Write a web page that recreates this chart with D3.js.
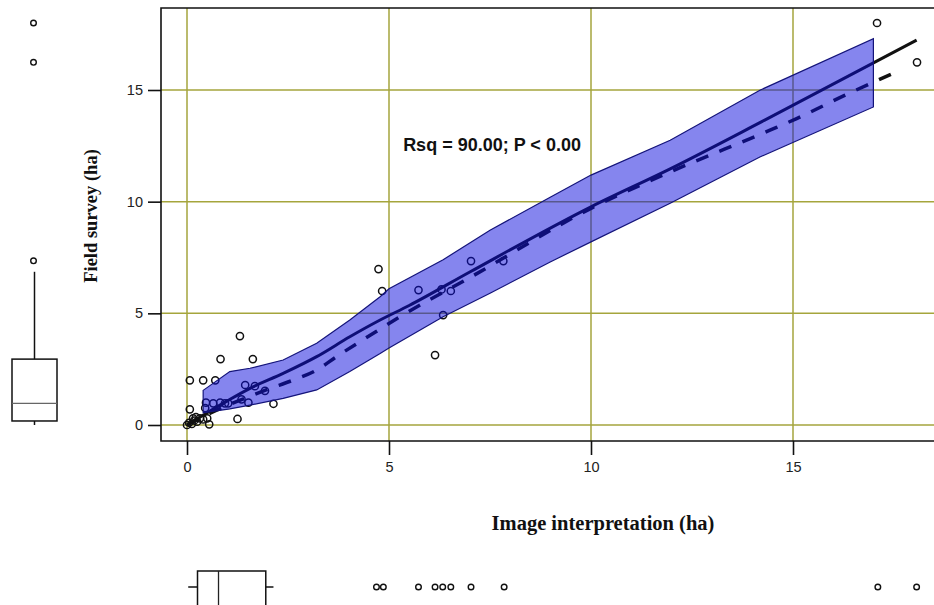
<!DOCTYPE html>
<html>
<head>
<meta charset="utf-8">
<script src="https://cdn.jsdelivr.net/npm/d3@7"></script>
<style>
    body { margin: 0; background: #fff; }
    svg { display: block; }
</style>
</head>
<body>
<svg id="chart" width="934" height="605"></svg>
<script>

// scatter points: image interpretation (ha) vs field survey (ha)
var imageHa = [17.08, 18.07, 4.74, 4.83, 5.73, 6.14, 6.30, 6.34, 6.53, 7.03, 7.83,
    1.31, 0.83, 1.63, 0.07, 0.40, 0.70, 1.44, 1.68, 1.93, 0.47, 0.82, 1.02, 1.35, 1.52, 2.14,
    0.07, 1.25, 0.55, 0.00, 0.05, 0.12, 0.18, 0.25, 0.32, 0.22, 0.40, 0.50, 0.45, 0.65, 0.94, 0.15];
var fieldHa = [18.00, 16.24, 6.98, 6.00, 6.04, 3.13, 6.07, 4.92, 6.00, 7.34, 7.34,
    3.98, 2.95, 2.95, 2.00, 2.00, 2.00, 1.79, 1.74, 1.53, 1.00, 1.00, 0.97, 1.15, 1.00, 0.95,
    0.70, 0.27, 0.03, 0.00, 0.10, 0.05, 0.20, 0.15, 0.30, 0.35, 0.25, 0.30, 0.76, 0.97, 0.97, 0.30];

// fitted line (solid) and smoother (dashed)
var fitX = [0, 0.5, 1.0, 1.56, 2.38, 3.21, 4.03, 4.78, 5.5, 7.0, 10.0, 11.96, 14.3, 18.06];
var fitY = [0, 0.55, 1.08, 1.64, 2.31, 3.06, 3.95, 4.70, 5.35, 6.85, 9.77, 11.47, 13.65, 17.23];
var smoothX = [0, 0.6, 1.3, 2.0, 2.63, 3.21, 3.70, 4.28, 4.74, 5.23, 7.0, 10.0, 11.96, 14.43, 15.09, 16.29, 17.65];
var smoothY = [0, 0.55, 1.10, 1.60, 2.01, 2.46, 3.06, 3.73, 4.25, 4.80, 6.60, 9.70, 11.33, 13.20, 13.72, 14.77, 15.88];

// confidence band edges
var bandX = [0.40, 1.06, 1.56, 2.38, 3.21, 4.03, 4.78, 5.0, 6.34, 7.5, 8.99, 10.0, 11.96, 14.18, 16.99];
var bandUpper = [1.55, 2.39, 2.54, 2.91, 3.66, 4.70, 5.74, 6.10, 7.40, 8.72, 10.20, 11.19, 12.75, 14.99, 17.30];
var bandLower = [0.55, 0.72, 0.89, 1.19, 1.57, 2.40, 3.20, 3.45, 4.85, 5.90, 7.30, 8.20, 9.93, 12.00, 14.24];

// marginal boxplots: [min, q1, median, q3, max]
var fieldBox = [0.00, 0.18, 0.97, 2.95, 6.86];
var fieldOutliers = [7.35, 16.24, 18.00];
var imageBox = [0.03, 0.26, 0.78, 1.95, 2.14];
var imageOutliers = [4.69, 4.86, 5.73, 6.14, 6.33, 6.53, 7.03, 7.85, 17.10, 18.06];

var ticks = [0, 5, 10, 15];

var xLabel = "Image interpretation (ha)";
var yLabel = "Field survey (ha)";
var statText = "Rsq = 90.00; P < 0.00";


var svg = d3.select("#chart");

var xScale = d3.scaleLinear().domain([0, 15]).range([187, 793]);
var yScale = d3.scaleLinear().domain([0, 15]).range([425, 90]);

var frame = { left: 161, right: 940, top: 8, bottom: 441 };

var gridColor = "#a5a53c";

// grid lines
svg.selectAll("line.vgrid")
    .data(ticks)
    .enter()
    .append("line")
    .attr("class", "vgrid")
    .attr("x1", function(d) { return xScale(d); })
    .attr("x2", function(d) { return xScale(d); })
    .attr("y1", frame.top)
    .attr("y2", frame.bottom)
    .attr("stroke", gridColor)
    .attr("stroke-width", 1.5);

svg.selectAll("line.hgrid")
    .data(ticks)
    .enter()
    .append("line")
    .attr("class", "hgrid")
    .attr("x1", frame.left)
    .attr("x2", frame.right)
    .attr("y1", function(d) { return yScale(d); })
    .attr("y2", function(d) { return yScale(d); })
    .attr("stroke", gridColor)
    .attr("stroke-width", 1.5);

// frame
svg.append("path")
    .attr("d", "M" + frame.right + "," + frame.top + "H" + frame.left + "V" + frame.bottom + "H" + frame.right)
    .attr("fill", "none")
    .attr("stroke", "#111")
    .attr("stroke-width", 1.6);

// axes (ticks outside the frame)
var xAxis = d3.axisBottom(xScale).tickValues(ticks).tickSize(14).tickPadding(7).tickFormat(d3.format("d"));
var yAxis = d3.axisLeft(yScale).tickValues(ticks).tickSize(13).tickPadding(5).tickFormat(d3.format("d"));

var gx = svg.append("g")
    .attr("transform", "translate(0," + frame.bottom + ")")
    .call(xAxis);
var gy = svg.append("g")
    .attr("transform", "translate(" + frame.left + ",0)")
    .call(yAxis);

[gx, gy].forEach(function(g) {
    g.select(".domain").remove();
    g.selectAll(".tick line").attr("stroke", "#111").attr("stroke-width", 1.6);
    g.selectAll(".tick text")
        .attr("fill", "#222")
        .style("font-family", "Liberation Sans, Arial, sans-serif")
        .style("font-size", "14.5px");
});

// regression line and smoother
var line = d3.line()
    .x(function(d) { return xScale(d[0]); })
    .y(function(d) { return yScale(d[1]); })
    .curve(d3.curveMonotoneX);

svg.append("path")
    .datum(d3.zip(fitX, fitY))
    .attr("d", line)
    .attr("fill", "none")
    .attr("stroke", "#111")
    .attr("stroke-width", 3);

svg.append("path")
    .datum(d3.zip(smoothX, smoothY))
    .attr("d", line)
    .attr("fill", "none")
    .attr("stroke", "#111")
    .attr("stroke-width", 3.5)
    .attr("stroke-dasharray", "13,12");

// scatter points
svg.selectAll("circle.pt")
    .data(d3.zip(imageHa, fieldHa))
    .enter()
    .append("circle")
    .attr("class", "pt")
    .attr("cx", function(d) { return xScale(d[0]); })
    .attr("cy", function(d) { return yScale(d[1]); })
    .attr("r", 3.6)
    .attr("fill", "none")
    .attr("stroke", "#111")
    .attr("stroke-width", 1.5);

// band drawn on top, translucent so the marks under it turn navy
var bandPts = d3.zip(bandX, bandUpper).concat(d3.zip(bandX, bandLower).reverse());
var band = d3.line()
    .x(function(d) { return xScale(d[0]); })
    .y(function(d) { return yScale(d[1]); });

svg.append("path")
    .attr("d", band(bandPts) + "Z")
    .attr("fill", "rgb(12,12,222)")
    .attr("fill-opacity", 0.5)
    .attr("stroke", "none");

svg.append("path")
    .attr("d", band(bandPts) + "Z")
    .attr("fill", "none")
    .attr("stroke", "#14147a")
    .attr("stroke-width", 1.2);

// stats text
svg.append("text")
    .attr("x", xScale(5.35))
    .attr("y", 151)
    .attr("fill", "#111")
    .style("font-family", "Liberation Sans, Arial, sans-serif")
    .style("font-weight", "bold")
    .style("font-size", "18px")
    .text(statText);

// axis titles
svg.append("text")
    .attr("x", 603)
    .attr("y", 530)
    .attr("text-anchor", "middle")
    .attr("fill", "#111")
    .style("font-family", "Liberation Serif, Times New Roman, serif")
    .style("font-weight", "bold")
    .style("font-size", "20.5px")
    .text(xLabel);

svg.append("text")
    .attr("transform", "translate(97,216) rotate(-90)")
    .attr("text-anchor", "middle")
    .attr("fill", "#111")
    .style("font-family", "Liberation Serif, Times New Roman, serif")
    .style("font-weight", "bold")
    .style("font-size", "18.5px")
    .text(yLabel);


/* MARGINAL BOXPLOTS */

// left: field survey, on the y scale
var lbx = 34.5, lbw = 45;
var leftBox = svg.append("g");

leftBox.append("line")
    .attr("x1", lbx).attr("x2", lbx)
    .attr("y1", yScale(fieldBox[3])).attr("y2", yScale(fieldBox[4]))
    .attr("stroke", "#111").attr("stroke-width", 1.5);
leftBox.append("line")
    .attr("x1", lbx).attr("x2", lbx)
    .attr("y1", yScale(fieldBox[1])).attr("y2", yScale(fieldBox[0]))
    .attr("stroke", "#111").attr("stroke-width", 1.5);
leftBox.append("rect")
    .attr("x", lbx - lbw / 2)
    .attr("y", yScale(fieldBox[3]))
    .attr("width", lbw)
    .attr("height", yScale(fieldBox[1]) - yScale(fieldBox[3]))
    .attr("fill", "none")
    .attr("stroke", "#111")
    .attr("stroke-width", 1.5);
leftBox.append("line")
    .attr("x1", lbx - lbw / 2).attr("x2", lbx + lbw / 2)
    .attr("y1", yScale(fieldBox[2])).attr("y2", yScale(fieldBox[2]))
    .attr("stroke", "#666").attr("stroke-width", 1.2);
leftBox.selectAll("circle")
    .data(fieldOutliers)
    .enter()
    .append("circle")
    .attr("cx", lbx - 1)
    .attr("cy", function(d) { return yScale(d); })
    .attr("r", 2.8)
    .attr("fill", "none")
    .attr("stroke", "#111")
    .attr("stroke-width", 1.4);

// bottom: image interpretation, on the x scale
var bby = 587, bbh = 32;
var bottomBox = svg.append("g");

bottomBox.append("line")
    .attr("x1", xScale(imageBox[0])).attr("x2", xScale(imageBox[1]))
    .attr("y1", bby).attr("y2", bby)
    .attr("stroke", "#111").attr("stroke-width", 1.5);
bottomBox.append("line")
    .attr("x1", xScale(imageBox[3])).attr("x2", xScale(imageBox[4]))
    .attr("y1", bby).attr("y2", bby)
    .attr("stroke", "#111").attr("stroke-width", 1.5);
bottomBox.append("rect")
    .attr("x", xScale(imageBox[1]))
    .attr("y", bby - bbh / 2)
    .attr("width", xScale(imageBox[3]) - xScale(imageBox[1]))
    .attr("height", bbh + 4)
    .attr("fill", "none")
    .attr("stroke", "#111")
    .attr("stroke-width", 1.5);
bottomBox.append("line")
    .attr("x1", xScale(imageBox[2])).attr("x2", xScale(imageBox[2]))
    .attr("y1", bby - bbh / 2).attr("y2", bby + bbh / 2 + 4)
    .attr("stroke", "#222").attr("stroke-width", 1.3);
bottomBox.selectAll("circle")
    .data(imageOutliers)
    .enter()
    .append("circle")
    .attr("cx", function(d) { return xScale(d); })
    .attr("cy", bby)
    .attr("r", 2.8)
    .attr("fill", "none")
    .attr("stroke", "#111")
    .attr("stroke-width", 1.4);

</script>
</body>
</html>
